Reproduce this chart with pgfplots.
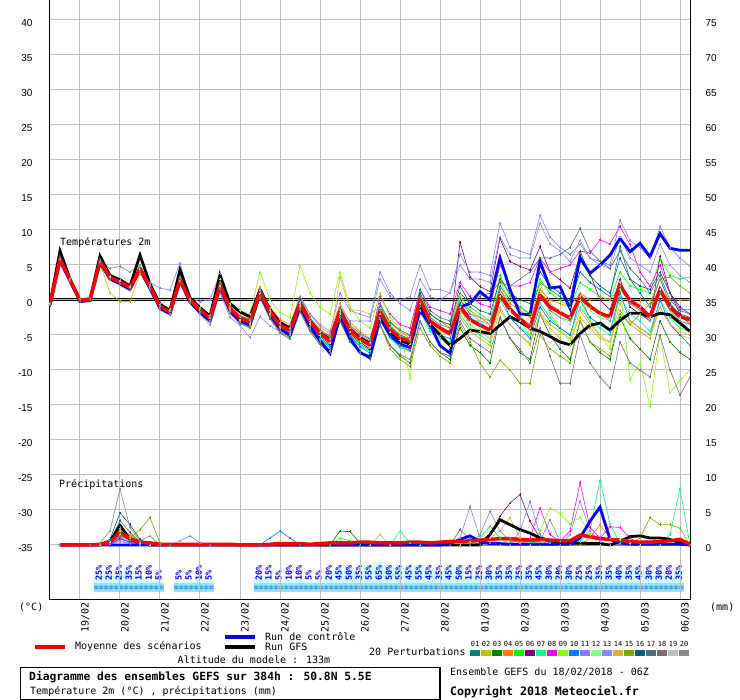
\documentclass[border=0pt]{standalone}
\usepackage{fontspec}
\setmainfont{DejaVu Sans Mono}
\newfontfamily\tickfont{Liberation Sans}
\usepackage{pgfplots}
\usepackage{pgfplotstable}
\pgfplotsset{compat=1.18}
\definecolor{p01}{HTML}{008080}
\definecolor{p02}{HTML}{C0C000}
\definecolor{p03}{HTML}{008000}
\definecolor{p04}{HTML}{FF8000}
\definecolor{p05}{HTML}{00FF00}
\definecolor{p06}{HTML}{800080}
\definecolor{p07}{HTML}{00FF80}
\definecolor{p08}{HTML}{FF00FF}
\definecolor{p09}{HTML}{80FF00}
\definecolor{p10}{HTML}{0080FF}
\definecolor{p11}{HTML}{8080FF}
\definecolor{p12}{HTML}{80FF80}
\definecolor{p13}{HTML}{8888FF}
\definecolor{p14}{HTML}{E0B040}
\definecolor{p15}{HTML}{80A800}
\definecolor{p16}{HTML}{006080}
\definecolor{p17}{HTML}{507080}
\definecolor{p18}{HTML}{806878}
\definecolor{p19}{HTML}{C0C0C0}
\definecolor{p20}{HTML}{888888}
\definecolor{gridgray}{HTML}{C0C0C0}
\definecolor{snowbar}{HTML}{CCFFFF}
\definecolor{snowband}{HTML}{9EE0F8}
\definecolor{snowflake}{HTML}{3FA9E8}
\pgfplotsset{
  /pgfplots/table/ser/.style={x expr=\coordindex*6, y index=0, header=false, row sep=\\},
  mem/.style={color=#1, line width=0.6pt, mark=+, mark size=1.3pt},
  pmem/.style={color=#1, line width=0.6pt, mark=+, mark size=1.2pt},
  base/.style={scale only axis, width=640pt, height=600pt, at={(0pt,0pt)}, anchor=south west, xmin=0, xmax=384},
}
\pgfplotstableread[row sep=\\]{
h p\\
30 25\\ 36 25\\ 42 25\\ 48 35\\ 54 15\\ 60 10\\ 66 5\\
78 5\\ 84 5\\ 90 10\\ 96 5\\
126 20\\ 132 15\\ 138 5\\ 144 10\\ 150 10\\ 156 5\\ 162 5\\ 168 20\\ 174 45\\ 180 50\\
186 35\\ 192 55\\ 198 65\\ 204 50\\ 210 55\\ 216 45\\ 222 55\\ 228 45\\ 234 35\\ 240 45\\
246 50\\ 252 15\\ 258 25\\ 264 30\\ 270 35\\ 276 35\\ 282 25\\ 288 35\\ 294 45\\ 300 30\\
306 20\\ 312 30\\ 318 25\\ 324 25\\ 330 35\\ 336 35\\ 342 40\\ 348 35\\ 354 45\\ 360 30\\
366 30\\ 372 20\\ 378 35\\
}\snowtab
\begin{document}
\begin{tikzpicture}
\fill[white] (-50pt,-100pt) rectangle (690pt,600pt);
\path[use as bounding box] (-50pt,-100pt) rectangle (690pt,600pt);

% ---------- snow probability strip ----------
\begin{axis}[base, ymin=-53.1, ymax=1821.9, hide axis, clip=false]
\addplot[fill=snowband, draw=none] coordinates {(26.4,0) (68.4,0) (68.4,-28.1) (26.4,-28.1)};
\addplot[fill=snowband, draw=none] coordinates {(74.4,0) (98.4,0) (98.4,-28.1) (74.4,-28.1)};
\addplot[fill=snowband, draw=none] coordinates {(122.4,0) (380.4,0) (380.4,-28.1) (122.4,-28.1)};
\addplot[ybar, bar width=10pt, bar shift=-1.3pt, fill=snowbar, draw=none] table[x=h, y=p] {\snowtab};
\addplot[only marks, mark=asterisk, mark size=2.5pt, color=snowflake, mark options={line width=0.9pt}] table[x expr=\thisrow{h}-2.3, y expr=-14] {\snowtab};
\addplot[only marks, mark=asterisk, mark size=2.5pt, color=snowflake, mark options={line width=0.9pt}] table[x expr=\thisrow{h}+0.7, y expr=-14] {\snowtab};
\addplot[draw=none, mark=none, nodes near coords={\pgfplotspointmeta\%}, point meta=explicit symbolic,
  nodes near coords style={rotate=90, anchor=west, inner sep=0pt, font=\fontsize{8.5}{8.5}\selectfont\bfseries, text=blue}]
  table[x expr=\thisrow{h}-0.8, y expr=6.25, meta=p] {\snowtab};
\end{axis}

% ---------- temperature ----------
\begin{axis}[base, ymin=-42.857, ymax=42.857,
  axis x line*=bottom, axis y line*=left, axis line style={-, line width=1pt},
  xtick={18,42,...,378}, xticklabels={}, ytick={-35,-30,...,40},
  grid=major, grid style={gridgray, line width=1pt}, major tick length=0pt,
  yticklabel style={font=\tickfont, xshift=-14pt, yshift=-3pt},
  /pgf/number format/assume math mode=true]
\addplot[black, line width=1pt] coordinates {(0,0.143) (384,0.143)};
\addplot[black, line width=1pt] coordinates {(0,-0.143) (384,-0.143)};
\addplot[mem=p01] table[ser] {-0.8\\ 5.9\\ 3.0\\ 0.1\\ 0.2\\ 5.3\\ 3.0\\ 2.3\\ 1.5\\ 4.0\\ 1.6\\ -1.2\\ -2.0\\ 2.5\\ -0.3\\ -1.8\\ -3.0\\ 1.6\\ -1.8\\ -3.2\\ -3.7\\ 0.5\\ -2.4\\ -4.2\\ -5.0\\ -1.5\\ -3.9\\ -5.5\\ -6.5\\ -2.8\\ -5.0\\ -6.3\\ -7.2\\ -3.0\\ -5.0\\ -6.2\\ -6.8\\ -1.0\\ -3.5\\ -4.5\\ -5.0\\ -1.5\\ -3.0\\ -3.0\\ -3.5\\ 2.0\\ 0.0\\ -1.0\\ -2.0\\ 2.5\\ 1.5\\ 0.5\\ -0.5\\ 4.0\\ 2.5\\ 1.5\\ 0.5\\ 7.6\\ 3.0\\ 1.0\\ -1.0\\ 3.0\\ -0.5\\ -2.0\\ -2.5\\};
\addplot[mem=p02] table[ser] {-0.6\\ 5.6\\ 2.8\\ -0.1\\ 0.0\\ 5.2\\ 1.0\\ -0.2\\ -0.2\\ 3.8\\ 1.5\\ -1.0\\ -1.9\\ 2.6\\ -0.2\\ -1.6\\ -2.9\\ 1.8\\ -1.5\\ -3.0\\ -3.4\\ 0.8\\ -2.0\\ -3.9\\ -4.6\\ -0.9\\ -3.5\\ -5.2\\ -6.2\\ -2.2\\ -4.8\\ -6.0\\ -6.9\\ -2.5\\ -5.0\\ -6.3\\ -7.0\\ -1.5\\ -4.2\\ -5.5\\ -6.5\\ -2.5\\ -4.5\\ -5.5\\ -6.5\\ -1.5\\ -3.5\\ -5.0\\ -6.2\\ -1.8\\ -3.5\\ -4.5\\ -5.5\\ -2.5\\ -4.0\\ -5.5\\ -6.0\\ -1.5\\ -3.5\\ -4.5\\ -5.5\\ -1.0\\ -3.5\\ -5.0\\ -5.5\\};
\addplot[mem=p03] table[ser] {-0.5\\ 5.7\\ 2.8\\ -0.2\\ 0.0\\ 5.4\\ 3.0\\ 2.4\\ 1.6\\ 4.2\\ 1.7\\ -1.2\\ -2.0\\ 2.7\\ -0.4\\ -1.8\\ -3.0\\ 1.7\\ -1.6\\ -3.1\\ -3.8\\ 0.6\\ -2.5\\ -4.4\\ -5.3\\ -1.3\\ -4.2\\ -6.0\\ -7.2\\ -3.0\\ -5.8\\ -7.3\\ -8.2\\ -3.5\\ -6.5\\ -8.0\\ -9.0\\ -3.0\\ -6.0\\ -7.5\\ -8.5\\ -4.0\\ -6.5\\ -7.5\\ -9.0\\ -2.5\\ -5.5\\ -7.5\\ -8.5\\ -2.0\\ -5.0\\ -7.0\\ -8.5\\ -3.0\\ -6.0\\ -7.5\\ -8.5\\ -2.5\\ -5.5\\ -7.0\\ -8.5\\ -3.0\\ -6.0\\ -7.5\\ -8.5\\};
\addplot[mem=p04] table[ser] {-0.7\\ 5.7\\ 2.9\\ 0.1\\ 0.2\\ 5.6\\ 3.3\\ 2.7\\ 1.9\\ 4.6\\ 2.0\\ -0.8\\ -1.5\\ 3.1\\ 0.2\\ -1.2\\ -2.4\\ 2.5\\ -0.8\\ -2.2\\ -2.7\\ 1.8\\ -1.0\\ -2.8\\ -3.5\\ 0.5\\ -2.0\\ -3.8\\ -4.8\\ -0.5\\ -3.2\\ -4.5\\ -5.5\\ -0.8\\ -3.2\\ -4.5\\ -5.2\\ 0.5\\ -2.0\\ -3.0\\ -4.0\\ 0.0\\ -1.5\\ -2.5\\ -3.5\\ 1.5\\ -0.5\\ -1.5\\ -2.5\\ 1.5\\ 0.0\\ -0.5\\ -1.0\\ 1.0\\ 0.0\\ 0.1\\ 0.2\\ 1.5\\ 0.0\\ 0.1\\ 0.0\\ 1.0\\ 0.1\\ 0.0\\ 0.0\\};
\addplot[mem=p05] table[ser] {-0.5\\ 6.0\\ 3.1\\ 0.2\\ 0.3\\ 5.6\\ 3.3\\ 2.8\\ 2.0\\ 4.8\\ 2.2\\ -0.7\\ -1.5\\ 3.2\\ 0.2\\ -1.2\\ -2.4\\ 2.4\\ -1.0\\ -2.4\\ -3.0\\ 1.4\\ -1.5\\ -3.3\\ -4.0\\ 0.0\\ -2.8\\ -4.5\\ -5.4\\ -1.0\\ -4.0\\ -5.3\\ -6.0\\ -1.0\\ -3.5\\ -5.0\\ -5.5\\ 1.0\\ -2.0\\ -3.0\\ -3.5\\ 0.5\\ -1.0\\ -2.0\\ -3.0\\ 3.5\\ 0.5\\ -1.0\\ -2.0\\ 3.0\\ 1.0\\ 0.0\\ -1.0\\ 2.5\\ 1.5\\ 0.5\\ 0.0\\ 4.0\\ 2.0\\ 1.5\\ 1.0\\ 6.0\\ 3.5\\ 3.0\\ 3.3\\};
\addplot[mem=p06] table[ser] {-0.6\\ 5.8\\ 3.0\\ 0.0\\ 0.1\\ 5.5\\ 3.1\\ 2.5\\ 1.7\\ 4.4\\ 1.8\\ -1.0\\ -1.8\\ 2.8\\ -0.1\\ -1.5\\ -2.7\\ 2.0\\ -1.3\\ -2.8\\ -3.3\\ 1.0\\ -2.0\\ -3.8\\ -4.6\\ -0.8\\ -3.5\\ -5.2\\ -6.3\\ -2.0\\ -4.8\\ -6.0\\ -7.0\\ -2.2\\ -5.0\\ -6.2\\ -6.8\\ -0.5\\ -3.0\\ -4.0\\ -4.5\\ 8.3\\ 3.3\\ 1.9\\ 1.2\\ 8.8\\ 5.5\\ 4.8\\ 4.3\\ 7.6\\ 4.0\\ 2.9\\ 1.7\\ 6.4\\ 3.8\\ 0.0\\ -1.4\\ 3.0\\ -1.0\\ -2.0\\ -3.0\\ 6.2\\ 1.0\\ -2.0\\ -3.5\\};
\addplot[mem=p07] table[ser] {-0.7\\ 5.6\\ 2.7\\ -0.1\\ 0.0\\ 5.3\\ 3.0\\ 2.5\\ 1.7\\ 4.3\\ 1.7\\ -1.1\\ -1.9\\ 2.7\\ -0.3\\ -1.7\\ -2.9\\ 1.9\\ -1.6\\ -3.0\\ -3.6\\ 0.9\\ -2.2\\ -4.0\\ -4.8\\ -1.0\\ -3.8\\ -5.5\\ -6.6\\ -2.5\\ -5.2\\ -6.5\\ -7.4\\ -2.8\\ -5.5\\ -6.8\\ -7.3\\ -1.5\\ -4.5\\ -5.5\\ -6.0\\ -2.0\\ -4.0\\ -5.0\\ -6.0\\ 0.0\\ -2.5\\ -4.0\\ -5.0\\ -0.5\\ -2.5\\ -4.0\\ -5.0\\ -1.0\\ -3.0\\ -4.0\\ -5.0\\ 0.5\\ -2.0\\ -3.0\\ -4.5\\ 0.0\\ -2.5\\ -4.0\\ -4.5\\};
\addplot[mem=p08] table[ser] {-0.6\\ 5.9\\ 3.0\\ 0.1\\ 0.2\\ 5.6\\ 3.3\\ 2.7\\ 1.9\\ 4.6\\ 2.0\\ -0.8\\ -1.6\\ 3.0\\ 0.1\\ -1.3\\ -2.5\\ 2.2\\ -1.1\\ -2.5\\ -3.0\\ 1.3\\ -1.6\\ -3.4\\ -4.1\\ -0.3\\ -2.9\\ -4.5\\ -5.6\\ -1.3\\ -4.0\\ -5.3\\ -6.2\\ 0.5\\ -2.0\\ -3.5\\ -4.0\\ 1.5\\ -1.0\\ -1.5\\ -2.0\\ 2.5\\ 0.5\\ -0.5\\ -1.0\\ 5.0\\ 2.0\\ 2.0\\ 2.5\\ 6.0\\ 4.0\\ 4.5\\ 5.0\\ 7.0\\ 6.7\\ 8.6\\ 8.0\\ 10.5\\ 7.9\\ 4.0\\ 2.0\\ 5.0\\ 1.0\\ -1.4\\ -1.4\\};
\addplot[mem=p09] table[ser] {-0.5\\ 5.9\\ 3.0\\ 0.2\\ 0.3\\ 5.7\\ 3.4\\ 2.8\\ 2.0\\ 4.8\\ 2.3\\ -0.6\\ -1.3\\ 3.3\\ 0.3\\ -1.0\\ -2.2\\ 3.0\\ -0.5\\ -1.5\\ -2.0\\ 4.0\\ 0.0\\ -1.8\\ -2.5\\ 5.0\\ 1.0\\ -1.0\\ -2.0\\ 4.0\\ -1.0\\ -3.0\\ -4.0\\ 1.0\\ -2.5\\ -4.0\\ -11.2\\ 0.5\\ -2.5\\ -3.5\\ -4.0\\ 0.5\\ -1.5\\ -3.0\\ -4.5\\ 3.0\\ -1.0\\ -3.0\\ -5.0\\ 2.5\\ -2.0\\ -4.0\\ -6.0\\ 1.0\\ -3.0\\ -5.0\\ -7.0\\ 2.0\\ -11.4\\ -9.0\\ -15.2\\ -5.0\\ -13.3\\ -11.5\\ -10.0\\};
\addplot[mem=p10] table[ser] {-0.7\\ 5.7\\ 2.8\\ -0.1\\ 0.0\\ 5.4\\ 3.1\\ 2.5\\ 1.7\\ 4.4\\ 1.8\\ -1.0\\ -1.8\\ 2.8\\ -0.2\\ -1.6\\ -2.8\\ 1.8\\ -1.5\\ -3.0\\ -3.5\\ 0.9\\ -2.1\\ -4.1\\ -4.9\\ -1.0\\ -3.8\\ -5.6\\ -6.8\\ -2.4\\ -5.2\\ -6.7\\ -7.6\\ -2.6\\ -5.3\\ -6.6\\ -7.2\\ -1.0\\ -4.0\\ -5.0\\ -5.5\\ -0.5\\ -2.5\\ -3.5\\ -4.5\\ 1.0\\ -2.5\\ -4.0\\ -5.5\\ -1.0\\ -3.0\\ -4.0\\ -5.0\\ 0.0\\ -2.5\\ -3.5\\ -4.5\\ 1.0\\ -3.0\\ -4.0\\ -5.0\\ 0.0\\ -3.5\\ -5.0\\ -6.5\\};
\addplot[mem=p11] table[ser] {-0.6\\ 5.8\\ 2.9\\ 0.0\\ 0.1\\ 5.5\\ 3.2\\ 2.6\\ 1.8\\ 4.6\\ 2.5\\ 1.7\\ 1.4\\ 5.3\\ 0.2\\ -0.2\\ 0.0\\ 3.8\\ -1.0\\ -3.1\\ -3.5\\ 1.5\\ -1.5\\ -3.3\\ -4.0\\ 0.5\\ -2.0\\ -3.5\\ -4.5\\ 1.0\\ -1.5\\ -2.0\\ -2.5\\ 4.0\\ 1.0\\ -0.5\\ -1.5\\ 3.0\\ 0.5\\ 0.0\\ 1.0\\ 6.5\\ 4.0\\ 4.0\\ 3.5\\ 11.0\\ 7.5\\ 7.0\\ 6.5\\ 12.1\\ 9.0\\ 7.5\\ 6.5\\ 8.0\\ 6.0\\ 5.5\\ 5.0\\ 11.4\\ 8.5\\ 7.5\\ 6.0\\ 10.5\\ 7.5\\ 6.0\\ 4.8\\};
\addplot[mem=p12] table[ser] {-0.5\\ 5.9\\ 3.0\\ 0.1\\ 0.2\\ 5.5\\ 3.2\\ 2.6\\ 1.8\\ 4.5\\ 1.9\\ -0.9\\ -1.7\\ 2.9\\ 0.0\\ -1.4\\ -2.6\\ 2.1\\ -1.2\\ -2.7\\ -3.3\\ 1.0\\ -1.9\\ -3.8\\ -4.5\\ -0.8\\ -3.4\\ -5.1\\ -6.1\\ -1.9\\ -4.6\\ -5.9\\ -6.7\\ -2.0\\ -4.6\\ -5.8\\ -6.3\\ -0.5\\ -3.5\\ -4.5\\ -5.0\\ -1.0\\ -3.0\\ -4.0\\ -4.5\\ 0.5\\ -1.5\\ -3.0\\ -4.0\\ 0.5\\ -1.5\\ -2.5\\ -3.5\\ 0.0\\ -1.5\\ -2.5\\ -3.0\\ 1.5\\ -0.5\\ -1.5\\ -3.0\\ 1.0\\ -1.5\\ -3.0\\ -3.5\\};
\addplot[mem=p13] table[ser] {-0.6\\ 5.7\\ 2.8\\ 0.0\\ 0.1\\ 5.4\\ 3.1\\ 2.5\\ 1.7\\ 4.3\\ 1.7\\ -1.1\\ -1.9\\ 2.7\\ -0.2\\ -2.0\\ -3.6\\ 1.0\\ -2.5\\ -3.6\\ -5.4\\ -2.4\\ -3.7\\ -4.5\\ -5.0\\ -1.2\\ -4.0\\ -5.8\\ -7.2\\ -1.0\\ -3.0\\ -3.0\\ -3.0\\ 3.0\\ 0.5\\ 0.0\\ 0.5\\ 5.0\\ 1.5\\ 1.5\\ 1.0\\ 5.0\\ 3.0\\ 3.0\\ 2.5\\ 9.0\\ 6.5\\ 6.0\\ 6.0\\ 11.0\\ 8.0\\ 7.0\\ 5.5\\ 8.5\\ 6.0\\ 5.0\\ 4.5\\ 9.0\\ 6.0\\ 5.0\\ 4.0\\ 8.0\\ 5.0\\ 3.5\\ 2.5\\};
\addplot[mem=p14] table[ser] {-0.7\\ 5.8\\ 2.9\\ 0.0\\ 0.1\\ 5.4\\ 3.1\\ 2.5\\ 1.7\\ 4.4\\ 1.8\\ -1.0\\ -1.8\\ 2.8\\ -0.1\\ -1.5\\ -2.7\\ 1.9\\ -1.4\\ -2.9\\ -3.4\\ 1.0\\ -2.0\\ -3.9\\ -4.7\\ -0.5\\ -3.5\\ -5.0\\ -6.0\\ 3.3\\ -1.4\\ -1.5\\ -2.0\\ -1.0\\ -3.0\\ -4.5\\ -5.5\\ -0.5\\ -3.5\\ -4.5\\ -5.0\\ -1.5\\ -3.5\\ -4.5\\ -5.5\\ -1.0\\ -3.5\\ -5.0\\ -6.5\\ -2.0\\ -4.0\\ -5.5\\ -6.5\\ -1.5\\ -3.5\\ -5.0\\ -6.0\\ -0.5\\ -3.0\\ -4.0\\ -5.0\\ -1.0\\ -3.5\\ -4.5\\ -5.0\\};
\addplot[mem=p15] table[ser] {-0.6\\ 5.7\\ 2.8\\ -0.1\\ 0.0\\ 5.3\\ 3.0\\ 2.4\\ 1.6\\ 4.2\\ 1.6\\ -1.2\\ -2.0\\ 2.6\\ -0.4\\ -1.8\\ -3.0\\ 1.6\\ -1.8\\ -3.3\\ -3.9\\ 0.4\\ -2.6\\ -4.6\\ -5.5\\ -1.5\\ -4.3\\ -6.2\\ -7.4\\ -3.0\\ -6.0\\ -7.5\\ -8.5\\ -3.5\\ -7.0\\ -8.5\\ -9.5\\ -4.0\\ -6.5\\ -8.0\\ -9.0\\ -3.5\\ -6.0\\ -9.0\\ -11.0\\ -8.6\\ -10.0\\ -11.9\\ -11.9\\ -5.0\\ -7.0\\ -8.0\\ -9.0\\ -3.0\\ -6.0\\ -7.0\\ -8.0\\ -2.0\\ -3.5\\ -2.0\\ -0.5\\ 3.0\\ 3.3\\ 2.0\\ 1.0\\};
\addplot[mem=p16] table[ser] {-0.6\\ 5.8\\ 2.9\\ 0.0\\ 0.1\\ 5.5\\ 3.1\\ 2.5\\ 1.7\\ 4.6\\ 1.9\\ -0.9\\ -1.7\\ 3.0\\ 0.0\\ -1.4\\ -2.7\\ 2.4\\ -1.0\\ -2.5\\ -3.0\\ 1.4\\ -1.6\\ -3.5\\ -4.2\\ 0.0\\ -2.9\\ -4.6\\ -5.5\\ -1.5\\ -4.0\\ -5.2\\ -6.0\\ -1.0\\ -3.8\\ -5.0\\ -5.6\\ 1.0\\ -2.0\\ -3.0\\ -3.5\\ 2.0\\ -0.5\\ -1.5\\ -2.0\\ 3.0\\ 1.0\\ 0.0\\ -0.5\\ 4.0\\ 2.0\\ 1.0\\ 0.0\\ 7.0\\ 3.5\\ 2.0\\ 1.0\\ 6.0\\ 3.0\\ 2.0\\ 1.5\\ 4.0\\ 1.0\\ -1.0\\ -2.0\\};
\addplot[mem=p17] table[ser] {-0.6\\ 5.8\\ 3.0\\ 0.1\\ 0.2\\ 5.6\\ 3.3\\ 2.7\\ 1.9\\ 4.7\\ 2.0\\ -0.8\\ -1.6\\ 3.1\\ 0.1\\ -1.3\\ -2.5\\ 2.3\\ -1.0\\ -2.4\\ -2.9\\ 1.5\\ -1.4\\ -3.3\\ -4.0\\ 0.3\\ -2.6\\ -4.3\\ -5.2\\ -1.0\\ -3.6\\ -4.8\\ -5.6\\ -0.5\\ -3.2\\ -4.3\\ -5.0\\ 1.5\\ -1.5\\ -2.5\\ -3.0\\ 1.0\\ -0.5\\ 0.5\\ 1.0\\ 2.5\\ 2.0\\ 3.0\\ 4.0\\ 6.0\\ 6.0\\ 6.5\\ 7.5\\ 10.2\\ 7.0\\ 5.5\\ 4.5\\ 7.0\\ 4.5\\ 3.0\\ 1.0\\ 3.5\\ 0.0\\ -1.5\\ -2.0\\};
\addplot[mem=p18] table[ser] {-0.7\\ 5.6\\ 2.7\\ -0.2\\ -0.1\\ 5.2\\ 2.9\\ 2.3\\ 1.5\\ 4.1\\ 1.5\\ -1.3\\ -2.1\\ 2.5\\ -0.5\\ -1.9\\ -3.1\\ 1.5\\ -1.9\\ -3.4\\ -4.0\\ 0.3\\ -2.7\\ -4.7\\ -5.6\\ -1.7\\ -4.5\\ -6.4\\ -7.6\\ -3.0\\ -6.0\\ -7.5\\ -8.5\\ -3.5\\ -6.5\\ -7.8\\ -8.5\\ -3.0\\ -6.0\\ -7.5\\ -8.0\\ -3.0\\ -5.5\\ -6.5\\ -7.5\\ -2.5\\ -5.5\\ -7.0\\ -9.0\\ -4.0\\ -8.0\\ -11.9\\ -11.9\\ -5.0\\ -9.0\\ -11.0\\ -12.6\\ -6.0\\ -9.0\\ -10.0\\ -11.0\\ -5.0\\ -10.0\\ -13.6\\ -11.0\\};
\addplot[mem=p19] table[ser] {-0.5\\ 5.9\\ 3.0\\ 0.1\\ 0.2\\ 5.6\\ 3.3\\ 2.7\\ 1.9\\ 4.9\\ 2.0\\ -0.8\\ -1.6\\ 3.3\\ 0.1\\ -1.3\\ -2.5\\ 2.5\\ -1.0\\ -2.4\\ -2.9\\ 1.4\\ -1.5\\ -3.4\\ -4.1\\ -0.3\\ -3.0\\ -4.6\\ -5.6\\ -1.5\\ -4.0\\ -5.3\\ -6.1\\ -1.2\\ -3.9\\ -5.1\\ -5.6\\ 0.5\\ -2.5\\ -3.5\\ -4.0\\ 0.0\\ -2.0\\ -3.0\\ -3.5\\ 1.0\\ -1.0\\ -2.5\\ -3.5\\ 1.0\\ -0.5\\ -1.5\\ -2.5\\ 0.5\\ -1.0\\ -2.0\\ -2.5\\ 2.5\\ 0.0\\ -1.0\\ -2.5\\ 1.5\\ -1.0\\ -2.5\\ -3.0\\};
\addplot[mem=p20] table[ser] {-0.6\\ 6.0\\ 3.1\\ 0.1\\ 0.2\\ 5.7\\ 4.5\\ 4.8\\ 4.0\\ 5.0\\ 2.1\\ -0.7\\ -1.5\\ 3.2\\ 0.2\\ -1.2\\ -2.4\\ 2.5\\ -0.9\\ -2.3\\ -2.8\\ 1.6\\ -1.3\\ -3.2\\ -3.9\\ 0.4\\ -2.5\\ -4.2\\ -5.2\\ -1.2\\ -3.8\\ -5.0\\ -5.8\\ -1.5\\ -4.0\\ -5.2\\ -5.8\\ 0.5\\ -2.5\\ -3.5\\ -4.0\\ 0.0\\ -2.0\\ -2.5\\ -3.0\\ 1.5\\ -1.0\\ -2.5\\ -3.5\\ 0.5\\ -1.5\\ -2.5\\ -3.0\\ 1.0\\ -1.0\\ -2.0\\ -3.0\\ 2.0\\ -0.5\\ -1.5\\ -3.0\\ 1.0\\ -1.5\\ -3.0\\ -3.5\\};
% GFS run
\addplot[black, line width=2.8pt] table[ser] {-0.5\\ 7.0\\ 3.0\\ -0.2\\ 0.0\\ 6.3\\ 3.5\\ 2.9\\ 2.0\\ 6.4\\ 2.3\\ -0.6\\ -1.5\\ 4.3\\ 0.3\\ -1.1\\ -2.3\\ 3.6\\ -0.5\\ -1.7\\ -2.4\\ 1.5\\ -1.4\\ -3.2\\ -4.0\\ -0.4\\ -3.0\\ -4.7\\ -5.6\\ -1.5\\ -4.2\\ -5.4\\ -6.2\\ -1.8\\ -4.5\\ -5.8\\ -6.3\\ -1.0\\ -3.5\\ -5.0\\ -6.5\\ -5.5\\ -4.3\\ -4.5\\ -4.8\\ -3.6\\ -2.4\\ -3.1\\ -4.0\\ -4.5\\ -5.2\\ -6.0\\ -6.4\\ -4.8\\ -3.6\\ -3.3\\ -4.3\\ -2.9\\ -1.9\\ -1.9\\ -2.4\\ -1.9\\ -2.1\\ -3.3\\ -4.5\\};
% control run
\addplot[blue, line width=2.8pt] table[ser] {-0.7\\ 5.6\\ 2.7\\ -0.2\\ -0.1\\ 5.3\\ 3.0\\ 2.3\\ 1.5\\ 4.3\\ 1.6\\ -1.2\\ -2.0\\ 2.7\\ -0.3\\ -1.8\\ -3.0\\ 1.8\\ -1.6\\ -3.0\\ -3.6\\ 0.9\\ -2.1\\ -4.1\\ -5.0\\ -1.0\\ -3.8\\ -5.8\\ -7.6\\ -2.2\\ -5.5\\ -7.5\\ -8.2\\ -2.5\\ -5.0\\ -6.3\\ -6.8\\ -1.5\\ -3.5\\ -6.5\\ -7.6\\ -1.0\\ -0.5\\ 1.2\\ 0.0\\ 6.0\\ 1.5\\ -2.0\\ -2.1\\ 5.5\\ 1.7\\ 1.9\\ -1.2\\ 6.0\\ 3.8\\ 5.0\\ 6.4\\ 8.8\\ 6.9\\ 8.1\\ 6.2\\ 9.5\\ 7.4\\ 7.1\\ 7.1\\};
% ensemble mean
\addplot[red, line width=3.5pt] table[ser] {-0.6\\ 5.8\\ 2.9\\ 0.0\\ 0.1\\ 5.5\\ 3.2\\ 2.6\\ 1.8\\ 4.5\\ 1.9\\ -0.9\\ -1.7\\ 2.9\\ 0.0\\ -1.4\\ -2.6\\ 2.1\\ -1.2\\ -2.6\\ -3.1\\ 1.2\\ -1.7\\ -3.6\\ -4.3\\ -0.5\\ -3.1\\ -4.8\\ -5.8\\ -1.7\\ -4.3\\ -5.6\\ -6.4\\ -1.7\\ -4.2\\ -5.4\\ -5.9\\ 0.0\\ -3.0\\ -4.0\\ -4.8\\ -0.9\\ -2.8\\ -3.6\\ -4.3\\ 0.6\\ -1.3\\ -2.7\\ -4.0\\ 0.7\\ -1.0\\ -1.8\\ -2.6\\ 0.4\\ -0.9\\ -1.9\\ -2.4\\ 2.1\\ -0.1\\ -1.0\\ -2.4\\ 1.5\\ -1.0\\ -2.4\\ -2.8\\};
\end{axis}

% ---------- precipitation ----------
\begin{axis}[base, ymin=-7.857, ymax=77.857,
  axis y line*=right, axis x line=none, axis line style={-, line width=1pt},
  xtick=\empty, ytick={0,5,...,75}, major tick length=0pt,
  yticklabel style={font=\tickfont, xshift=12pt, yshift=-3pt},
  /pgf/number format/assume math mode=true]
\addplot[pmem=p01] coordinates {(6,0) (30,0) (36,0.5) (42,2.6) (48,1.2) (54,0.3) (60,0) (294,0) (300,0.8) (306,0) (384,0)};
\addplot[pmem=p02] coordinates {(6,0) (30,0) (36,0.2) (42,1.4) (48,0.6) (54,0.2) (60,0) (246,0) (252,0.5) (258,0) (384,0)};
\addplot[pmem=p03] coordinates {(6,0) (30,0) (36,0.3) (42,1.8) (48,0.8) (54,0.2) (60,0) (168,0) (174,2.0) (180,1.9) (186,0.3) (192,0) (384,0)};
\addplot[pmem=p04] coordinates {(6,0) (30,0) (36,0.4) (42,2.1) (48,1.5) (54,0.5) (60,0) (270,0) (276,1.0) (282,0.3) (318,0) (324,1.0) (330,2.9) (336,1.0) (342,0.3) (348,0) (384,0)};
\addplot[pmem=p05] coordinates {(6,0) (30,0) (36,0.5) (42,1.5) (48,0.6) (54,0.2) (60,0) (168,0) (174,1.0) (180,0.6) (186,0) (252,0) (258,1.0) (264,2.7) (270,1.0) (276,0) (384,0)};
\addplot[pmem=p06] coordinates {(6,0) (30,0) (36,0.1) (42,0.9) (48,0.4) (54,0.1) (60,0) (252,0) (258,0.3) (264,1.5) (270,4.1) (276,6.0) (282,7.2) (288,3.4) (294,1.0) (300,0.3) (306,0) (384,0)};
\addplot[pmem=p07] coordinates {(6,0) (30,0) (36,0.3) (42,1.2) (48,0.6) (54,0.2) (60,0) (204,0) (210,2.0) (216,0.3) (222,0) (318,0.5) (324,2.0) (330,9.3) (336,3.0) (342,0.3) (348,0) (366,0) (372,1.5) (378,8.1) (384,0)};
\addplot[pmem=p08] coordinates {(6,0) (30,0) (36,0.2) (42,0.8) (48,0.5) (54,0.2) (60,0) (282,0) (288,1.0) (294,5.3) (300,1.5) (306,0.5) (312,2.0) (318,8.9) (324,2.5) (330,1.0) (336,2.6) (342,2.5) (348,1.0) (354,0) (384,0)};
\addplot[pmem=p09] coordinates {(6,0) (30,0) (36,0.6) (42,1.9) (48,0.9) (54,0.3) (60,0) (288,0) (294,2.0) (300,5.3) (306,4.5) (312,3.0) (318,4.0) (324,1.5) (330,0) (384,0)};
\addplot[pmem=p10] coordinates {(6,0) (30,0) (36,0.2) (42,1.1) (48,0.3) (54,0.1) (60,0) (126,0) (132,1.0) (138,2.0) (144,1.0) (150,0) (384,0)};
\addplot[pmem=p11] coordinates {(6,0) (30,0) (36,0.1) (42,0.5) (48,0.2) (54,0) (72,0) (78,0.6) (84,1.3) (90,0.3) (96,0) (240,0) (246,1.0) (252,5.5) (258,1.0) (264,0.3) (276,0) (282,2.0) (288,6.2) (294,1.5) (300,0.3) (306,0) (384,0)};
\addplot[pmem=p12] coordinates {(6,0) (30,0) (36,0.3) (42,1.6) (48,0.7) (54,0.2) (60,0) (336,0) (342,0.8) (348,0.3) (354,0) (384,0)};
\addplot[pmem=p13] coordinates {(6,0) (30,0) (36,0.1) (42,0.6) (48,0.3) (54,0.1) (60,0) (306,0) (312,1.5) (318,6.3) (324,2.0) (330,0.5) (336,0) (384,0)};
\addplot[pmem=p14] coordinates {(6,0) (30,0) (36,0.6) (42,2.4) (48,1.3) (54,0.6) (60,0) (192,0) (198,1.5) (204,0) (258,0) (264,1.0) (270,2.0) (276,3.9) (282,1.0) (288,0) (384,0)};
\addplot[pmem=p15] coordinates {(6,0) (30,0) (36,0.4) (42,1.7) (48,1.0) (54,2.2) (60,3.9) (66,0.3) (72,0) (348,0) (354,1.0) (360,3.9) (366,2.9) (372,2.9) (378,2.4) (384,0)};
\addplot[pmem=p16] coordinates {(6,0) (24,0) (30,0.2) (36,0.8) (42,4.6) (48,2.9) (54,0.8) (60,0) (384,0)};
\addplot[pmem=p17] coordinates {(6,0) (30,0) (36,0.5) (42,3.5) (48,1.8) (54,0.4) (60,0) (240,0) (246,2.2) (252,0.8) (258,0) (384,0)};
\addplot[pmem=p18] coordinates {(6,0) (30,0) (36,0.3) (42,1.3) (48,0.7) (54,0.3) (60,0) (384,0)};
\addplot[pmem=p19] coordinates {(6,0) (30,0) (36,0.4) (42,2.0) (48,1.0) (54,0.3) (60,0) (384,0)};
\addplot[pmem=p20] coordinates {(6,0) (24,0) (30,0.3) (36,2.0) (42,8.0) (48,2.5) (54,0.6) (60,1.3) (66,0) (252,0) (258,1.5) (264,4.8) (270,2.0) (276,0.5) (294,0.5) (300,3.6) (306,0.5) (312,0) (384,0)};
% GFS
\addplot[black, line width=2.8pt] coordinates {(6,0) (30,0) (36,0.5) (42,2.8) (48,0.8) (54,0.3) (60,0) (258,0) (264,1.5) (270,3.6) (276,2.9) (282,2.2) (288,1.7) (294,1.0) (300,0.6) (306,0.3) (330,0.2) (336,0) (342,0.5) (348,1.2) (354,1.3) (360,1.0) (366,1.0) (372,0.8) (378,0.3) (384,0)};
% control
\addplot[blue, line width=2.8pt] coordinates {(6,0) (234,0) (240,0.2) (246,0.8) (252,1.3) (258,0.5) (264,0.2) (270,0.2) (276,0.1) (312,0.1) (318,1.0) (324,3.4) (330,5.4) (336,0.8) (342,0.3) (348,0.1) (378,0.1) (384,0)};
% mean
\addplot[red, line width=3.5pt] coordinates {(6,0) (12,0) (18,0) (24,0) (30,0.1) (36,0.4) (42,1.8) (48,0.9) (54,0.4) (60,0.3) (66,0.1) (72,0.1) (78,0.1) (84,0.1) (90,0.1) (96,0.1) (102,0.1) (108,0.1) (114,0) (120,0) (126,0) (132,0.1) (138,0.2) (144,0.2) (150,0.2) (156,0.1) (162,0.2) (168,0.3) (174,0.3) (180,0.3) (186,0.4) (192,0.4) (198,0.3) (204,0.3) (210,0.3) (216,0.4) (222,0.4) (228,0.3) (234,0.4) (240,0.5) (246,0.5) (252,0.6) (258,0.7) (264,0.8) (270,0.9) (276,0.9) (282,0.8) (288,0.7) (294,0.8) (300,0.7) (306,0.6) (312,0.6) (318,1.4) (324,1.2) (330,0.9) (336,0.8) (342,0.7) (348,0.5) (354,0.4) (360,0.4) (366,0.5) (372,0.6) (378,0.8) (384,0.1)};
\end{axis}

% ---------- texts ----------
\node[anchor=west, inner sep=0pt] at (10pt,357.3pt) {Températures 2m};
\node[anchor=west, inner sep=0pt] at (9pt,115.7pt) {Précipitations};
\foreach \d [count=\k from 0] in {19/02,20/02,21/02,22/02,23/02,24/02,25/02,26/02,27/02,28/02,01/03,02/03,03/03,04/03,05/03,06/03}
  \node[rotate=90, anchor=north east, inner sep=0pt] at ({(31+40*\k)*1pt},-2pt) {\d};
\node[anchor=west, inner sep=0pt] at (-31pt,-7pt) {(°C)};
\node[anchor=west, inner sep=0pt] at (660pt,-7pt) {(mm)};
% legend
\draw[red, line width=4pt] (-15pt,-46.7pt) -- (15pt,-46.7pt);
\node[anchor=west, inner sep=0pt] at (25pt,-46.7pt) {Moyenne des scénarios};
\draw[blue, line width=4pt] (175pt,-36.7pt) -- (205pt,-36.7pt);
\node[anchor=west, inner sep=0pt] at (215pt,-36.7pt) {Run de contrôle};
\draw[black, line width=4pt] (175pt,-46.7pt) -- (205pt,-46.7pt);
\node[anchor=west, inner sep=0pt] at (215pt,-46.7pt) {Run GFS};
\node[inner sep=0pt] at (204pt,-59.3pt) {Altitude du modele : 133m};
\draw[black, line width=1.5pt] (-29.3pt,-67.3pt) rectangle (390pt,-99.3pt);
\node[anchor=west, inner sep=0pt, font=\fontsize{11.3}{12}\selectfont\bfseries] at (-21pt,-76.7pt) {Diagramme des ensembles GEFS sur 384h : 50.8N 5.5E};
\node[anchor=west, inner sep=0pt] at (-20pt,-92pt) {Température 2m (°C) , précipitations (mm)};
\node[anchor=west, inner sep=0pt] at (319pt,-51.7pt) {20 Perturbations};
\foreach \n [count=\k from 0] in {01,02,03,04,05,06,07,08,09,10,11,12,13,14,15,16,17,18,19,20} {
  \fill[p\n] ({(420+11*\k)*1pt},-50pt) rectangle ({(430+11*\k)*1pt},-56pt);
  \node[font=\fontsize{7}{7}\selectfont, inner sep=0pt] at ({(425+11*\k)*1pt},-44pt) {\n};
}
\node[anchor=west, inner sep=0pt] at (400pt,-72.3pt) {Ensemble GEFS du 18/02/2018 - 06Z};
\node[anchor=west, inner sep=0pt, font=\fontsize{11.6}{12}\selectfont\bfseries] at (400pt,-92.3pt) {Copyright 2018 Meteociel.fr};
\end{tikzpicture}
\end{document}
